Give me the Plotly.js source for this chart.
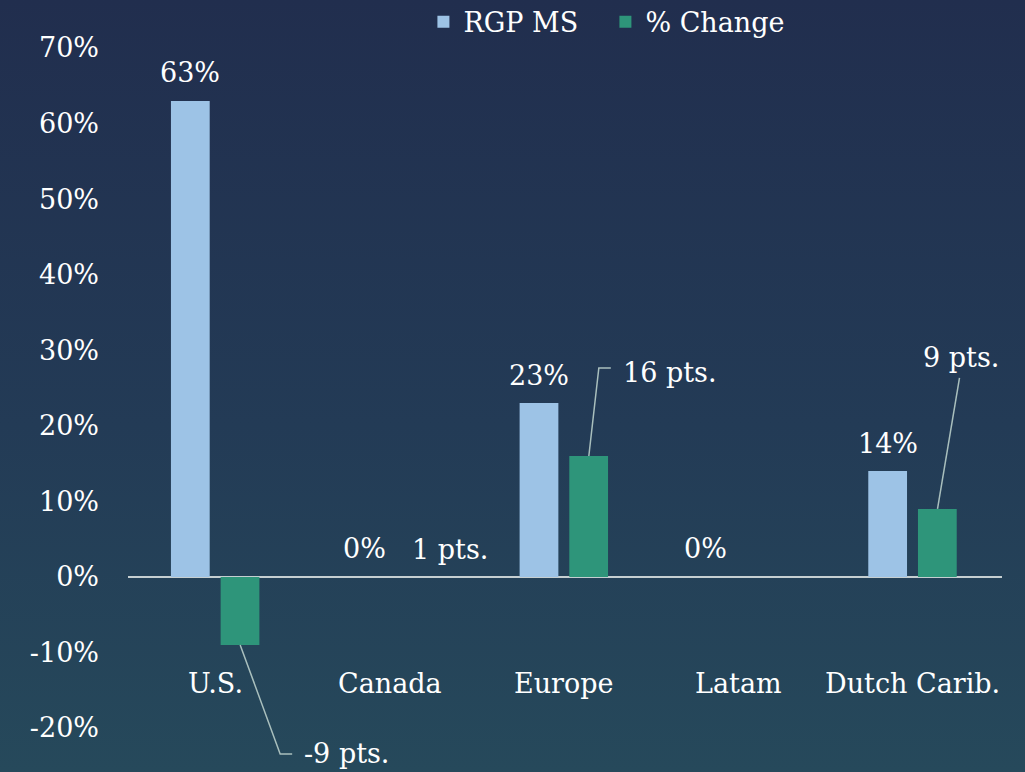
<!DOCTYPE html>
<html>
<head>
<meta charset="utf-8">
<script src="https://cdn.plot.ly/plotly-3.0.1.min.js"></script>
<style>
  html, body { margin: 0; padding: 0; }
  body { width: 1025px; height: 772px; background: linear-gradient(to bottom, #212e4e 0%, #233b56 55%, #26495b 100%); }
  #chart { width: 1025px; height: 772px; }
</style>
</head>
<body>
<div id="chart"></div>
<script>
// ---- data ----
var categories = ["U.S.", "Canada", "Europe", "Latam", "Dutch Carib."];
var rgpMS      = [63, 0, 23, 0, 14];
var rgpLabels  = ["63%", "0%", "23%", "0%", "14%"];
var pctChange  = [-9, 0, 16, null, 9];
var chgLabels  = ["-9 pts.", "1 pts.", "16 pts.", "", "9 pts."];
var tickVals   = [-20, -10, 0, 10, 20, 30, 40, 50, 60, 70];
var tickText   = ["-20%", "-10%", "0%", "10%", "20%", "30%", "40%", "50%", "60%", "70%"];

// ---- styling / placement (not data) ----
var FONT = "DejaVu Serif";
var FS = 27;
var white = "#ffffff";
var leaderColor = "#a9bfbd";
var Y_RANGE = [-20, 70];
// per-category placement of the "% Change" labels: [xshift, yshift, xanchor, leader path or null]
var chgPlace = [
  [87, -109, "left",   "M25,0 L65,-109 L77,-109"],
  [60, 27,   "center", null],
  [57, 84,   "left",   "M25,0 L35,88 L47,88"],
  [0, 0,     "center", null],
  [48, 151,  "center", "M25,0 L47,131"]
];
var rgpXShift = [-25, -25, -25, -33, -25];

function yFrac(v) { return (v - Y_RANGE[0]) / (Y_RANGE[1] - Y_RANGE[0]); }

var traces = [
  {
    type: "bar", name: "RGP MS", x: categories, y: rgpMS,
    marker: { color: "#9dc3e6", line: { width: 0 } },
    hoverinfo: "skip"
  },
  {
    type: "bar", name: "% Change", x: categories, y: pctChange,
    marker: { color: "#2e957a", line: { width: 0 } },
    hoverinfo: "skip"
  }
];

var annotations = [];
var shapes = [];
categories.forEach(function (c, i) {
  // category labels
  annotations.push({
    x: i, y: 0, xref: "x", yref: "y", text: c, showarrow: false,
    yshift: -107, font: { family: FONT, size: FS, color: white }
  });
  // RGP MS labels
  annotations.push({
    x: i, y: rgpMS[i], xref: "x", yref: "y", text: rgpLabels[i], showarrow: false,
    xshift: rgpXShift[i], yshift: 28, font: { family: FONT, size: FS, color: white }
  });
  // % Change labels
  if (chgLabels[i]) {
    var p = chgPlace[i];
    var yv = pctChange[i] === null ? 0 : pctChange[i];
    annotations.push({
      x: i, y: yv, xref: "x", yref: "y", text: chgLabels[i], showarrow: false,
      xshift: p[0], yshift: p[1], xanchor: p[2], yanchor: "middle",
      font: { family: FONT, size: FS, color: white }
    });
    if (p[3]) {
      shapes.push({
        type: "path", xref: "x", yref: "paper",
        xsizemode: "pixel", ysizemode: "pixel", xanchor: i, yanchor: yFrac(yv),
        path: p[3], line: { color: leaderColor, width: 1.5 }
      });
    }
  }
});

var layout = {
  width: 1025, height: 772,
  paper_bgcolor: "rgba(0,0,0,0)", plot_bgcolor: "rgba(0,0,0,0)",
  margin: { l: 128, r: 23, t: 48, b: 44, pad: 0, autoexpand: false },
  font: { family: FONT, size: FS, color: white },
  barmode: "group", bargap: 0.43, bargroupgap: 0.22,
  showlegend: true,
  legend: {
    orientation: "h", x: 0.338, xanchor: "left", y: 1.038, yanchor: "middle",
    font: { family: FONT, size: FS, color: white },
    entrywidth: 137, entrywidthmode: "pixels",
    bgcolor: "rgba(0,0,0,0)", traceorder: "normal"
  },
  xaxis: {
    type: "category", showticklabels: false, showgrid: false, zeroline: false,
    showline: false, ticks: "", fixedrange: true
  },
  yaxis: {
    range: Y_RANGE, tickvals: tickVals, ticktext: tickText,
    showgrid: false, zeroline: true, zerolinecolor: "#c6cfd1", zerolinewidth: 2,
    showline: false, ticks: "", ticklabelstandoff: 28,
    tickfont: { family: FONT, size: FS, color: white }, fixedrange: true
  },
  annotations: annotations,
  shapes: shapes
};

Plotly.newPlot("chart", traces, layout, { displayModeBar: false, staticPlot: true });
</script>
</body>
</html>
